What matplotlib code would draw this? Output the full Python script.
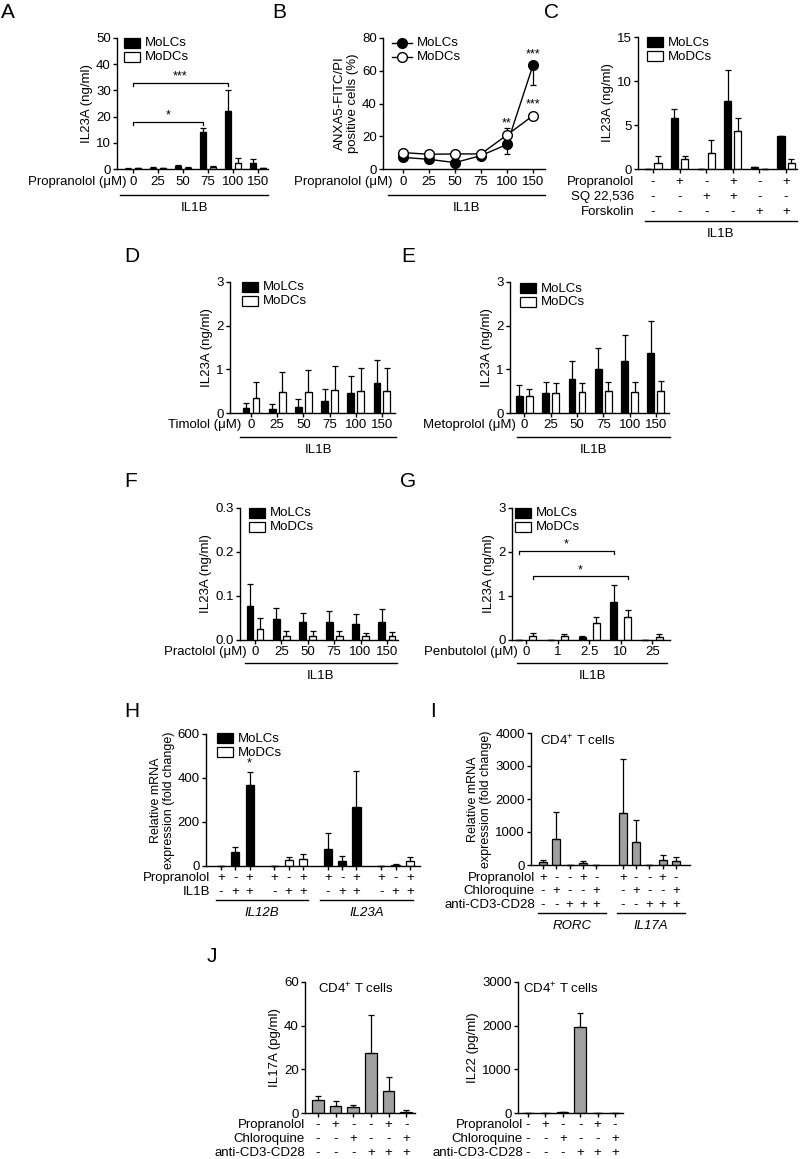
import matplotlib
matplotlib.use('Agg')
import matplotlib.pyplot as plt
from matplotlib.patches import Rectangle
from matplotlib.lines import Line2D
from matplotlib.transforms import blended_transform_factory
import numpy as np

plt.rcParams['font.family'] = ['Liberation Sans', 'DejaVu Sans']
plt.rcParams['mathtext.default'] = 'regular'

# ---- data ----
# A: propranolol dose, IL23A (ng/ml)
a_doses = ['0', '25', '50', '75', '100', '150']
a_lc = [0.1, 0.4, 1.2, 14.3, 22.2, 2.2]
a_lc_err = [0.1, 0.3, 0.4, 1.3, 8.0, 1.5]
a_dc = [0.2, 0.2, 0.4, 0.9, 2.2, 0.2]
a_dc_err = [0.1, 0.1, 0.2, 0.3, 2.1, 0.1]

# B: ANXA5/PI positive cells (%)
b_lc = [7.1, 5.9, 3.9, 8.2, 15.0, 63.5]
b_lc_err = [1.0, 1.0, 1.0, 1.0, 6.0, 12.0]   # drawn downward
b_dc = [10.0, 9.0, 9.2, 9.2, 20.8, 32.6]
b_dc_err = [1.0, 1.0, 1.0, 1.0, 4.0, 1.5]    # drawn upward

# C: cAMP pathway
c_prop = ['-', '+', '-', '+', '-', '+']
c_sq = ['-', '-', '+', '+', '-', '-']
c_forsk = ['-', '-', '-', '-', '+', '+']
c_lc = [0.0, 5.8, 0.0, 7.7, 0.2, 3.7]
c_lc_err = [0.0, 1.0, 0.0, 3.5, 0.05, 0.1]
c_dc = [0.7, 1.1, 1.8, 4.3, 0.0, 0.65]
c_dc_err = [0.8, 0.4, 1.5, 1.5, 0.0, 0.45]

# D: timolol
d_lc = [0.11, 0.09, 0.14, 0.27, 0.46, 0.69]
d_lc_err = [0.13, 0.12, 0.17, 0.28, 0.39, 0.53]
d_dc = [0.34, 0.47, 0.48, 0.52, 0.50, 0.50]
d_dc_err = [0.36, 0.47, 0.50, 0.55, 0.52, 0.53]

# E: metoprolol
e_lc = [0.40, 0.46, 0.78, 1.01, 1.18, 1.37]
e_lc_err = [0.23, 0.25, 0.42, 0.49, 0.60, 0.73]
e_dc = [0.38, 0.46, 0.47, 0.50, 0.48, 0.50]
e_dc_err = [0.18, 0.23, 0.22, 0.21, 0.22, 0.23]

# F: practolol
f_lc = [0.077, 0.047, 0.042, 0.042, 0.036, 0.042]
f_lc_err = [0.051, 0.025, 0.020, 0.025, 0.022, 0.028]
f_dc = [0.024, 0.009, 0.009, 0.009, 0.008, 0.008]
f_dc_err = [0.025, 0.011, 0.012, 0.011, 0.009, 0.011]

# G: penbutolol
g_doses = ['0', '1', '2.5', '10', '25']
g_lc = [0.01, 0.0, 0.06, 0.86, 0.0]
g_lc_err = [0.0, 0.0, 0.04, 0.39, 0.0]
g_dc = [0.08, 0.08, 0.38, 0.53, 0.06]
g_dc_err = [0.07, 0.06, 0.15, 0.15, 0.08]

# H: relative mRNA in MoLCs / MoDCs
h_prop = ['+', '-', '+'] * 4
h_il1b = ['-', '+', '+'] * 4
h_cell = ['MoLCs'] * 3 + ['MoDCs'] * 3 + ['MoLCs'] * 3 + ['MoDCs'] * 3
h_vals = [2, 62, 367, 1, 27, 32, 76, 24, 270, 1, 6, 23]
h_err = [0, 26, 62, 0, 15, 24, 76, 23, 162, 0, 3, 16]
h_genes = ['IL12B', 'IL23A']

# I: CD4+ T cells mRNA
i_prop = ['+', '-', '-', '+', '-'] * 2
i_chloro = ['-', '+', '-', '-', '+'] * 2
i_cd3 = ['-', '-', '+', '+', '+'] * 2
i_vals = [80, 790, 0, 50, 10, 1590, 695, 0, 140, 110]
i_err = [70, 820, 0, 80, 0, 1630, 665, 0, 150, 120]
i_genes = ['RORC', 'IL17A']

# J: cytokines
j_prop = ['-', '+', '-', '-', '+', '-']
j_chloro = ['-', '-', '+', '-', '-', '+']
j_cd3 = ['-', '-', '-', '+', '+', '+']
j_il17 = [6.1, 3.0, 2.6, 27.7, 9.9, 0.5]
j_il17_err = [1.5, 2.3, 1.2, 17.3, 6.5, 0.7]
j_il22 = [0, 0, 15, 1960, 0, 0]
j_il22_err = [0, 0, 0, 320, 0, 0]

W, H = 800, 1159
fig = plt.figure(figsize=(W / 100, H / 100), dpi=100)
FS = 9.5
GRAY = '#a0a0a0'


def fx(x):
    return x / W


def fy(y):
    return 1 - y / H


def panel(x0, x1, ytop, ybot, ymax, yticks, xlim, yticklabels=None):
    ax = fig.add_axes([fx(x0), fy(ybot), (x1 - x0) / W, (ybot - ytop) / H])
    ax.set_xlim(*xlim)
    ax.set_ylim(0, ymax)
    ax.set_yticks(yticks)
    if yticklabels is not None:
        ax.set_yticklabels(yticklabels)
    for s in ['top', 'right']:
        ax.spines[s].set_visible(False)
    for s in ['left', 'bottom']:
        ax.spines[s].set_linewidth(1.0)
    ax.tick_params(direction='out', length=3, width=1.0, labelsize=FS, pad=1.5)
    ax.patch.set_alpha(0)
    return ax


def errs(ax, x, v, e, down=False):
    z = np.zeros(len(v))
    yerr = [e, z] if down else [z, e]
    ax.errorbar(x, v, yerr=yerr, fmt='none', ecolor='black', elinewidth=0.9,
                capsize=2, capthick=0.9, zorder=3, clip_on=False)


def pair_bars(ax, n, lc, lc_err, dc, dc_err, off=0.19, w=0.26):
    x = np.arange(n)
    ax.bar(x - off, lc, w, color='black', edgecolor='black', lw=0.9, zorder=2)
    ax.bar(x + off, dc, w, color='white', edgecolor='black', lw=0.9, zorder=2)
    errs(ax, x - off, lc, lc_err)
    errs(ax, x + off, dc, dc_err)
    ax.set_xticks(x)
    ax.set_xticklabels([])


def row(ax, ypix, label, labx, items, pos, fs=FS):
    tr = blended_transform_factory(ax.transData, fig.transFigure)
    for p, s in zip(pos, items):
        ax.text(p, fy(ypix), s, transform=tr, ha='center', va='center', fontsize=fs)
    fig.text(fx(labx), fy(ypix), label, ha='right', va='center', fontsize=fs)


def under(x0, x1, y, text, ty, italic=False):
    fig.add_artist(Line2D([fx(x0), fx(x1)], [fy(y), fy(y)], transform=fig.transFigure,
                          color='black', lw=1.0))
    fig.text(fx((x0 + x1) / 2), fy(ty), text, ha='center', va='center', fontsize=FS,
             style='italic' if italic else 'normal')


def legend(x, y):
    for i, (fc, name) in enumerate([('black', 'MoLCs'), ('white', 'MoDCs')]):
        yy = y + i * 14
        fig.add_artist(Rectangle((fx(x), fy(yy + 10)), 16 / W, 10 / H, transform=fig.transFigure,
                                 facecolor=fc, edgecolor='black', lw=0.9))
        fig.text(fx(x + 21), fy(yy + 5.5), name, ha='left', va='center', fontsize=FS)


def ylab(ax, text, fs=FS):
    ax.set_ylabel(text, fontsize=fs, labelpad=2, linespacing=1.1)


def letter(x, y, s):
    fig.text(fx(x), fy(y), s, ha='left', va='top', fontsize=15)


def bracket(ax, x0, x1, y, dy, star):
    ax.plot([x0, x0, x1, x1], [y - dy, y, y, y - dy], color='black', lw=0.9, clip_on=False)
    ax.text((x0 + x1) / 2, y, star, ha='center', va='bottom', fontsize=9)


# ---- A ----
ax = panel(117, 268, 38, 169, 50, [0, 10, 20, 30, 40, 50], (-0.64, 5.4))
pair_bars(ax, 6, a_lc, a_lc_err, a_dc, a_dc_err, off=0.2, w=0.26)
bracket(ax, 0, 2.8, 18, 1.3, '*')
bracket(ax, 0, 3.8, 33, 1.3, '***')
row(ax, 182, 'Propranolol (\u03bcM)', 126, a_doses, range(6))
under(120, 268, 195, 'IL1B', 208)
ylab(ax, 'IL23A (ng/ml)')
legend(124, 38)
letter(1, 3, 'A')

# ---- B ----
ax = panel(383, 545, 38, 169, 80, [0, 20, 40, 60, 80], (-0.77, 5.46))
x = np.arange(6)
ax.plot(x, b_lc, '-o', color='black', mfc='black', mec='black', ms=7, lw=1.0, zorder=3, clip_on=False)
ax.plot(x, b_dc, '-o', color='black', mfc='white', mec='black', ms=7, lw=1.0, zorder=4, clip_on=False)
errs(ax, x, b_lc, b_lc_err, down=True)
errs(ax, x, b_dc, b_dc_err)
ax.set_xticks(x)
ax.set_xticklabels([])
ax.text(4, 24, '**', ha='center', va='bottom', fontsize=9)
ax.text(5, 66, '***', ha='center', va='bottom', fontsize=9)
ax.text(5, 36, '***', ha='center', va='bottom', fontsize=9)
row(ax, 182, 'Propranolol (\u03bcM)', 393, a_doses, range(6))
under(388, 545, 195, 'IL1B', 208)
ylab(ax, 'ANXA5-FITC/PI\npositive cells (%)')
for i, fc in enumerate(['black', 'white']):
    yy = fy(43 + i * 14)
    fig.add_artist(Line2D([fx(392), fx(412)], [yy, yy], transform=fig.transFigure,
                          color='black', lw=1.0))
    fig.add_artist(Line2D([fx(402)], [yy], transform=fig.transFigure, marker='o', ms=7,
                          mfc=fc, mec='black', lw=0))
fig.text(fx(417), fy(43), 'MoLCs', ha='left', va='center', fontsize=FS)
fig.text(fx(417), fy(57), 'MoDCs', ha='left', va='center', fontsize=FS)
letter(272, 3, 'B')

# ---- C ----
ax = panel(638, 797, 37, 169, 15, [0, 5, 10, 15], (-0.56, 5.41))
pair_bars(ax, 6, c_lc, c_lc_err, c_dc, c_dc_err, off=0.19, w=0.27)
row(ax, 182, 'Propranolol', 634, c_prop, range(6))
row(ax, 197, 'SQ 22,536', 634, c_sq, range(6))
row(ax, 212, 'Forskolin', 634, c_forsk, range(6))
under(645, 797, 221, 'IL1B', 234)
ylab(ax, 'IL23A (ng/ml)')
legend(647, 37)
letter(544, 3, 'C')

# ---- D ----
ax = panel(230, 395, 282, 413, 3, [0, 1, 2, 3], (-0.8, 5.5))
pair_bars(ax, 6, d_lc, d_lc_err, d_dc, d_dc_err)
row(ax, 425, 'Timolol (\u03bcM)', 241, a_doses, range(6))
under(240, 396, 437, 'IL1B', 450)
ylab(ax, 'IL23A (ng/ml)')
legend(242, 282)
letter(124, 247, 'D')

# ---- E ----
ax = panel(510, 669, 282, 413, 3, [0, 1, 2, 3], (-0.55, 5.5))
pair_bars(ax, 6, e_lc, e_lc_err, e_dc, e_dc_err)
row(ax, 425, 'Metoprolol (\u03bcM)', 516, a_doses, range(6))
under(517, 670, 437, 'IL1B', 450)
ylab(ax, 'IL23A (ng/ml)')
legend(520, 283)
letter(401, 247, 'E')

# ---- F ----
ax = panel(240, 398, 508, 640, 0.3, [0, 0.1, 0.2, 0.3], (-0.57, 5.42),
           ['0.0', '0.1', '0.2', '0.3'])
pair_bars(ax, 6, f_lc, f_lc_err, f_dc, f_dc_err)
row(ax, 652, 'Practolol (\u03bcM)', 247, a_doses, range(6))
under(245, 397, 663, 'IL1B', 676)
ylab(ax, 'IL23A (ng/ml)')
legend(249, 508)
letter(124, 472, 'F')

# ---- G ----
ax = panel(512, 670, 508, 640, 3, [0, 1, 2, 3], (-0.44, 4.56))
pair_bars(ax, 5, g_lc, g_lc_err, g_dc, g_dc_err, off=0.22, w=0.22)
bracket(ax, -0.22, 2.78, 2.03, 0.07, '*')
bracket(ax, 0.22, 3.22, 1.45, 0.07, '*')
row(ax, 652, 'Penbutolol (\u03bcM)', 518, g_doses, range(5))
under(517, 667, 663, 'IL1B', 676)
ylab(ax, 'IL23A (ng/ml)')
legend(515, 508)
letter(400, 472, 'G')

# ---- H ----
hx = np.array([k * 3.73 + j for k in range(4) for j in range(3)])
ax = panel(206, 420, 734, 866, 600, [0, 200, 400, 600], (-1.05, 13.9))
hcol = ['black' if c == 'MoLCs' else 'white' for c in h_cell]
ax.bar(hx, h_vals, 0.58, color=hcol, edgecolor='black', lw=0.9, zorder=2)
errs(ax, hx, h_vals, h_err)
ax.set_xticks(hx)
ax.set_xticklabels([])
ax.text(hx[2], 438, '*', ha='center', va='bottom', fontsize=9)
row(ax, 878, 'Propranolol', 210, h_prop, hx)
row(ax, 892, 'IL1B', 210, h_il1b, hx)
under(216, 308, 900, h_genes[0], 913, italic=True)
under(320, 413, 900, h_genes[1], 913, italic=True)
ylab(ax, 'Relative mRNA\nexpression (fold change)', fs=9)
legend(217, 733)
letter(124, 702, 'H')

# ---- I ----
ix = np.array([k * 6 + j for k in range(2) for j in range(5)])
ax = panel(531, 690, 733, 865, 4000, [0, 1000, 2000, 3000, 4000], (-0.9, 11.05))
ax.bar(ix, i_vals, 0.6, color=GRAY, edgecolor='black', lw=0.9, zorder=2)
errs(ax, ix, i_vals, i_err)
ax.set_xticks(ix)
ax.set_xticklabels([])
ax.text(-0.22, 3760, 'CD4$^{+}$ T cells', ha='left', va='center', fontsize=FS)
row(ax, 878, 'Propranolol', 535, i_prop, ix)
row(ax, 891, 'Chloroquine', 535, i_chloro, ix)
row(ax, 905, 'anti-CD3-CD28', 535, i_cd3, ix)
under(538, 606, 913, i_genes[0], 926, italic=True)
under(617, 685, 913, i_genes[1], 926, italic=True)
ylab(ax, 'Relative mRNA\nexpression (fold change)', fs=9)
letter(430, 702, 'I')

# ---- J ----
jx = np.arange(6)
ax = panel(305, 415, 982, 1113, 60, [0, 20, 40, 60], (-0.74, 5.5))
ax.bar(jx, j_il17, 0.66, color=GRAY, edgecolor='black', lw=0.9, zorder=2)
errs(ax, jx, j_il17, j_il17_err)
ax.set_xticks(jx)
ax.set_xticklabels([])
ax.text(0, 56.8, 'CD4$^{+}$ T cells', ha='left', va='center', fontsize=FS)
row(ax, 1125, 'Propranolol', 305, j_prop, jx)
row(ax, 1139, 'Chloroquine', 305, j_chloro, jx)
row(ax, 1153, 'anti-CD3-CD28', 305, j_cd3, jx)
ylab(ax, 'IL17A (pg/ml)')
letter(207, 947, 'J')

ax = panel(518, 623, 982, 1113, 3000, [0, 1000, 2000, 3000], (-0.57, 5.46))
ax.bar(jx, j_il22, 0.66, color=GRAY, edgecolor='black', lw=0.9, zorder=2)
errs(ax, jx, j_il22, j_il22_err)
ax.set_xticks(jx)
ax.set_xticklabels([])
ax.text(-0.28, 2840, 'CD4$^{+}$ T cells', ha='left', va='center', fontsize=FS)
row(ax, 1125, 'Propranolol', 523, j_prop, jx)
row(ax, 1139, 'Chloroquine', 523, j_chloro, jx)
row(ax, 1153, 'anti-CD3-CD28', 523, j_cd3, jx)
ylab(ax, 'IL22 (pg/ml)')

fig.savefig('out.png', dpi=100, facecolor='white')
